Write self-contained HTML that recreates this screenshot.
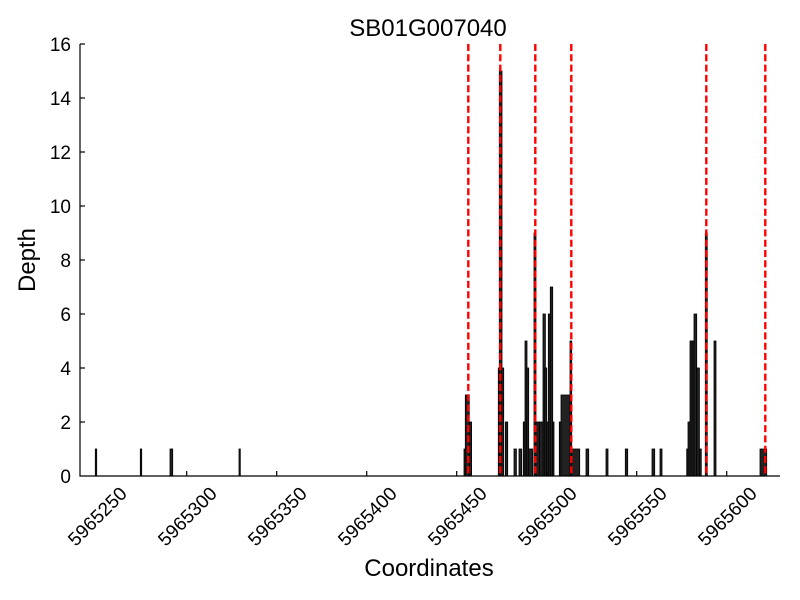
<!DOCTYPE html>
<html><head><meta charset="utf-8"><style>
html,body{margin:0;padding:0;background:#fff;}
svg{display:block;font-family:"Liberation Sans","DejaVu Sans",sans-serif;}
</style></head><body>
<svg width="800" height="600" viewBox="0 0 800 600" xmlns="http://www.w3.org/2000/svg">
<rect width="800" height="600" fill="#fff"/>
<text x="428" y="36" font-size="24" text-anchor="middle">SB01G007040</text>
<g fill="#222" stroke="#000" stroke-width="0.8">
<rect x="95.3" y="449" width="1.4" height="27"/>
<rect x="140.3" y="449" width="1.4" height="27"/>
<rect x="170" y="449" width="2.7" height="27"/>
<rect x="239" y="449" width="1.3" height="27"/>
<rect x="464" y="449" width="2" height="27"/>
<rect x="465.3" y="395" width="4" height="81"/>
<rect x="469.3" y="422" width="2.3" height="54"/>
<rect x="498.3" y="368" width="2.4" height="108"/>
<rect x="499.3" y="71" width="2.7" height="405"/>
<rect x="501.3" y="368" width="2.4" height="108"/>
<rect x="505.3" y="422" width="2.4" height="54"/>
<rect x="514" y="449" width="2.4" height="27"/>
<rect x="519" y="449" width="2.7" height="27"/>
<rect x="523.3" y="422" width="2" height="54"/>
<rect x="525" y="341" width="2" height="135"/>
<rect x="526.7" y="368" width="2" height="108"/>
<rect x="528.7" y="449" width="4" height="27"/>
<rect x="534" y="233" width="2" height="243"/>
<rect x="536" y="422" width="3.3" height="54"/>
<rect x="539.3" y="422" width="4" height="54"/>
<rect x="543" y="314" width="2.4" height="162"/>
<rect x="544.7" y="368" width="2" height="108"/>
<rect x="546.7" y="422" width="2" height="54"/>
<rect x="548.3" y="314" width="2" height="162"/>
<rect x="550.3" y="287" width="2.4" height="189"/>
<rect x="552.7" y="422" width="1.3" height="54"/>
<rect x="559.3" y="422" width="2" height="54"/>
<rect x="561" y="395" width="9.3" height="81"/>
<rect x="570" y="341" width="1.7" height="135"/>
<rect x="571.7" y="449" width="8" height="27"/>
<rect x="586" y="449" width="2.7" height="27"/>
<rect x="606" y="449" width="2" height="27"/>
<rect x="625.3" y="449" width="2.4" height="27"/>
<rect x="652" y="449" width="2.7" height="27"/>
<rect x="660" y="449" width="2" height="27"/>
<rect x="686.7" y="449" width="2" height="27"/>
<rect x="688" y="422" width="2.7" height="54"/>
<rect x="690" y="341" width="2.7" height="135"/>
<rect x="692" y="341" width="2" height="135"/>
<rect x="694" y="314" width="2.7" height="162"/>
<rect x="696.7" y="368" width="2.7" height="108"/>
<rect x="699.3" y="449" width="2" height="27"/>
<rect x="705.3" y="233" width="2" height="243"/>
<rect x="714" y="341" width="2" height="135"/>
<rect x="760" y="449" width="6.7" height="27"/>
</g>
<g stroke="#ff0000" stroke-width="2.4" stroke-dasharray="7,3.3">
<line x1="468.3" y1="44" x2="468.3" y2="476"/>
<line x1="500.3" y1="44" x2="500.3" y2="476"/>
<line x1="535.3" y1="44" x2="535.3" y2="476"/>
<line x1="571.3" y1="44" x2="571.3" y2="476"/>
<line x1="706.3" y1="44" x2="706.3" y2="476"/>
<line x1="765.3" y1="44" x2="765.3" y2="476"/>
</g>
<g stroke="#000" stroke-width="1.2">
<line x1="80" y1="44" x2="80" y2="476.5"/>
<line x1="79.5" y1="476" x2="780" y2="476"/>
<line x1="80" y1="44" x2="85" y2="44"/><line x1="80" y1="98" x2="85" y2="98"/>
<line x1="80" y1="152" x2="85" y2="152"/><line x1="80" y1="206" x2="85" y2="206"/>
<line x1="80" y1="260" x2="85" y2="260"/><line x1="80" y1="314" x2="85" y2="314"/>
<line x1="80" y1="368" x2="85" y2="368"/><line x1="80" y1="422" x2="85" y2="422"/>
<line x1="186.7" y1="476" x2="186.7" y2="471"/><line x1="276.7" y1="476" x2="276.7" y2="471"/>
<line x1="366.7" y1="476" x2="366.7" y2="471"/><line x1="456.7" y1="476" x2="456.7" y2="471"/>
<line x1="546.7" y1="476" x2="546.7" y2="471"/><line x1="636.7" y1="476" x2="636.7" y2="471"/>
<line x1="726.7" y1="476" x2="726.7" y2="471"/>
</g>
<g font-size="19" text-anchor="end">
<text x="71" y="483">0</text><text x="71" y="429">2</text><text x="71" y="375">4</text>
<text x="71" y="321">6</text><text x="71" y="267">8</text><text x="71" y="213">10</text>
<text x="71" y="159">12</text><text x="71" y="105">14</text><text x="71" y="51">16</text>
</g>
<g font-size="19" text-anchor="middle">
<text transform="translate(97,516) rotate(-45)" dy="7">5965250</text>
<text transform="translate(187,516) rotate(-45)" dy="7">5965300</text>
<text transform="translate(277,516) rotate(-45)" dy="7">5965350</text>
<text transform="translate(367,516) rotate(-45)" dy="7">5965400</text>
<text transform="translate(457,516) rotate(-45)" dy="7">5965450</text>
<text transform="translate(547,516) rotate(-45)" dy="7">5965500</text>
<text transform="translate(637,516) rotate(-45)" dy="7">5965550</text>
<text transform="translate(727,516) rotate(-45)" dy="7">5965600</text>
</g>
<text x="429" y="576" font-size="24" text-anchor="middle">Coordinates</text>
<text transform="translate(35,260) rotate(-90)" font-size="24" text-anchor="middle">Depth</text>
</svg>
</body></html>
